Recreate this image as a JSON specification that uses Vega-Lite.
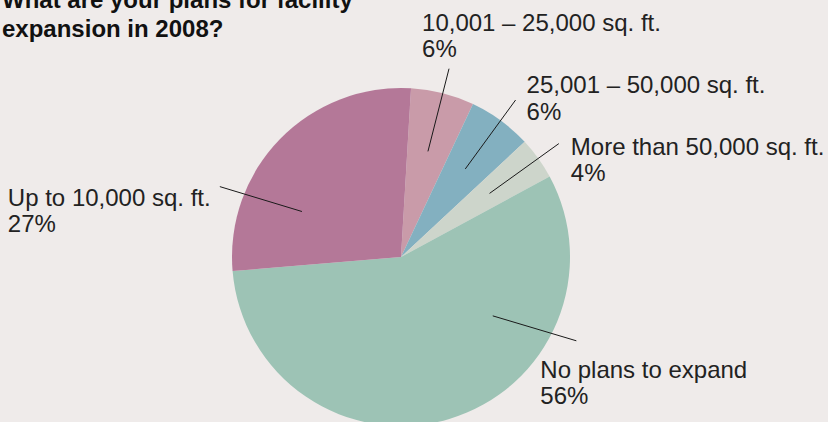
{
  "$schema": "https://vega.github.io/schema/vega-lite/v6.json",
  "width": 828,
  "height": 422,
  "autosize": {"type": "none"},
  "padding": 0,
  "background": "#efebea",
  "config": {"view": {"stroke": null}},
  "title": {
    "text": ["What are your plans for facility", "expansion in 2008?"],
    "orient": "top",
    "anchor": "start",
    "frame": "group",
    "offset": -61,
    "baseline": "alphabetic",
    "dx": 2,
    "font": "Liberation Sans",
    "fontSize": 24,
    "fontWeight": "bold",
    "lineHeight": 29,
    "color": "#111111"
  },
  "data": {
    "values": [
      {"category": "10,001 – 25,000 sq. ft.", "value": 6},
      {"category": "25,001 – 50,000 sq. ft.", "value": 6},
      {"category": "More than 50,000 sq. ft.", "value": 4},
      {"category": "No plans to expand", "value": 56},
      {"category": "Up to 10,000 sq. ft.", "value": 27}
    ]
  },
  "transform": [
    {"joinaggregate": [{"op": "sum", "field": "value", "as": "total"}]},
    {"window": [{"op": "sum", "field": "value", "as": "cum"}], "sort": [{"field": "category", "order": "ascending"}], "frame": [null, 0]},
    {"calculate": "0.0593 + 2 * PI * ((datum.cum - datum.value) + datum.value * (datum.value < 10 ? 0.5 : 0.3)) / datum.total", "as": "ai"},
    {"calculate": "0.0593 + 2 * PI * ((datum.cum - datum.value) + datum.value * (datum.value < 10 ? 0.5 : 0.265)) / datum.total", "as": "ao"},
    {"calculate": "0.645 * sin(datum.ai)", "as": "x1"},
    {"calculate": "0.645 * cos(datum.ai)", "as": "y1"},
    {"calculate": "1.15 * sin(datum.ao)", "as": "x2"},
    {"calculate": "1.15 * cos(datum.ao)", "as": "y2"},
    {"calculate": "[datum.category, datum.value + '%']", "as": "label"}
  ],
  "layer": [
    {
      "mark": {"type": "arc", "outerRadius": 169},
      "encoding": {
        "x": {"datum": 0, "type": "quantitative", "scale": {"domain": [-2.3728, 2.5266], "nice": false, "zero": false}, "axis": null},
        "y": {"datum": 0, "type": "quantitative", "scale": {"domain": [-0.9763, 1.5207], "nice": false, "zero": false}, "axis": null},
        "theta": {"field": "value", "type": "quantitative", "stack": true, "scale": {"range": [0.0593, 6.3425]}},
        "order": {"field": "category", "sort": "ascending"},
        "color": {
          "field": "category",
          "type": "nominal",
          "scale": {
            "domain": ["10,001 – 25,000 sq. ft.", "25,001 – 50,000 sq. ft.", "More than 50,000 sq. ft.", "No plans to expand", "Up to 10,000 sq. ft."],
            "range": ["#c99ba9", "#83b0c0", "#cdd5cb", "#9dc3b5", "#b47898"]
          },
          "legend": null
        }
      }
    },
    {
      "mark": {"type": "rule", "color": "#1a1a1a", "strokeWidth": 1},
      "encoding": {
        "x": {"field": "x1", "type": "quantitative", "scale": {"domain": [-2.3728, 2.5266], "nice": false, "zero": false}, "axis": null},
        "y": {"field": "y1", "type": "quantitative", "scale": {"domain": [-0.9763, 1.5207], "nice": false, "zero": false}, "axis": null},
        "x2": {"field": "x2"},
        "y2": {"field": "y2"}
      }
    },
    {
      "mark": {
        "type": "text",
        "align": "left",
        "baseline": "alphabetic",
        "font": "Liberation Sans",
        "fontSize": 24,
        "lineHeight": 26.5,
        "color": "#222222",
        "dx": {"expr": "indexof(datum.category, '10,001') == 0 ? -27 : indexof(datum.category, '25,001') == 0 ? 11 : indexof(datum.category, 'More') == 0 ? 12 : indexof(datum.category, 'No') == 0 ? -36 : -212"},
        "dy": {"expr": "indexof(datum.category, '10,001') == 0 ? -38 : indexof(datum.category, '25,001') == 0 ? -7 : indexof(datum.category, 'More') == 0 ? 11 : indexof(datum.category, 'No') == 0 ? 37 : 19"}
      },
      "encoding": {
        "x": {"field": "x2", "type": "quantitative"},
        "y": {"field": "y2", "type": "quantitative"},
        "text": {"field": "label"}
      }
    }
  ]
}
